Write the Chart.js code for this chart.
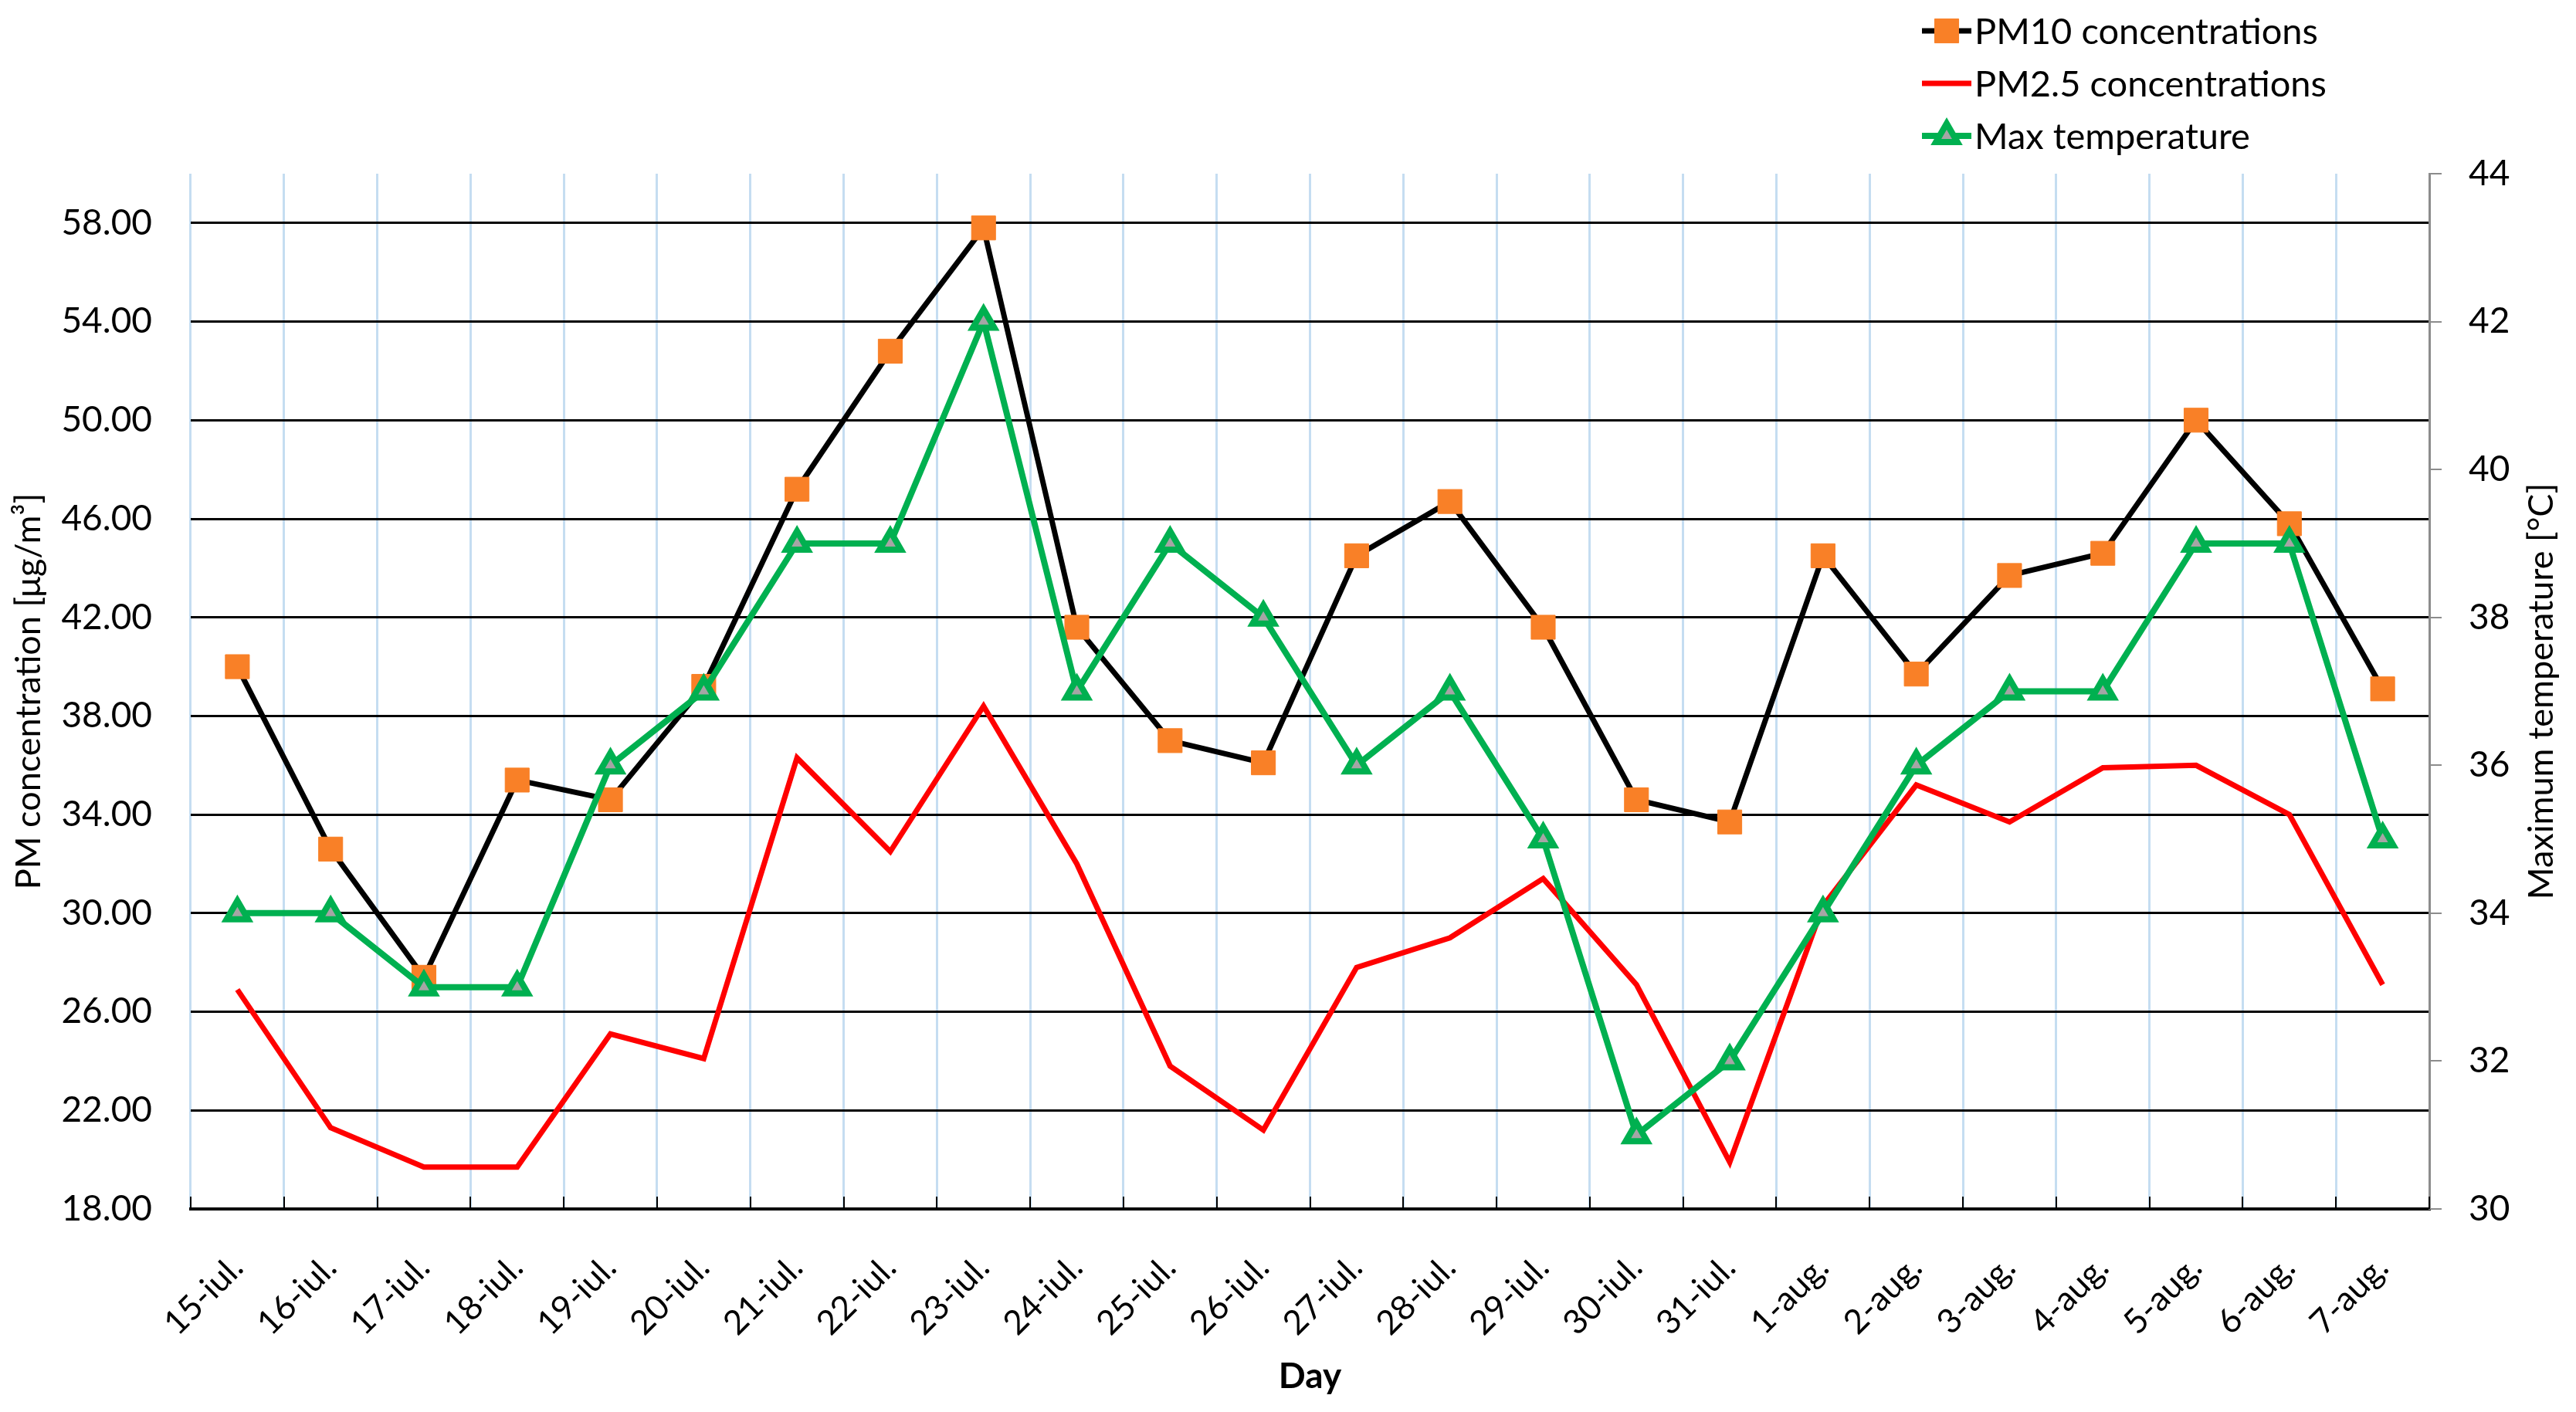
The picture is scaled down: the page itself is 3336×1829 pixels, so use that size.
<!DOCTYPE html>
<html>
<head>
<meta charset="utf-8">
<script src="https://cdn.jsdelivr.net/npm/chart.js@4.4.1/dist/chart.umd.min.js"></script>
<style>
html,body{margin:0;padding:0;background:#ffffff;}
#wrap{width:3336px;height:1829px;position:relative;}
canvas{display:block;}
</style>
</head>
<body>
<div id="wrap"><canvas id="c" width="3336" height="1829"></canvas></div>
<script>
// ---- data ----
const days = ["15-iul.","16-iul.","17-iul.","18-iul.","19-iul.","20-iul.","21-iul.","22-iul.","23-iul.","24-iul.","25-iul.","26-iul.","27-iul.","28-iul.","29-iul.","30-iul.","31-iul.","1-aug.","2-aug.","3-aug.","4-aug.","5-aug.","6-aug.","7-aug."];
const pm10 = [40.0, 32.6, 27.4, 35.4, 34.6, 39.2, 47.2, 52.8, 57.8, 41.6, 37.0, 36.1, 44.5, 46.7, 41.6, 34.6, 33.7, 44.5, 39.7, 43.7, 44.6, 50.0, 45.8, 39.1];
const pm25 = [26.9, 21.3, 19.7, 19.7, 25.1, 24.1, 36.3, 32.5, 38.4, 32.0, 23.8, 21.2, 27.8, 29.0, 31.4, 27.1, 19.9, 30.3, 35.2, 33.7, 35.9, 36.0, 34.0, 27.1];
const maxTemp = [34, 34, 33, 33, 36, 37, 39, 39, 42, 37, 39, 38, 36, 37, 35, 31, 32, 34, 36, 37, 37, 39, 39, 35];
const pmTicks = [18, 22, 26, 30, 34, 38, 42, 46, 50, 54, 58];
const tempTicks = [30, 32, 34, 36, 38, 40, 42, 44];
const seriesNames = ["PM10 concentrations", "PM2.5 concentrations", "Max temperature"];
const leftTitle = "PM concentration [\u03bcg/m\u00b3]";
const rightTitle = "Maximum temperature [\u00b0C]";
const xTitle = "Day";

const FONT = "Lato, 'Liberation Sans', sans-serif";

// inside tick marks on the category axis
const insideTicks = {
  id: 'insideTicks',
  afterDatasetsDraw(chart) {
    const xs = chart.scales.x;
    const ctx = chart.ctx;
    const n = chart.data.labels.length;
    const half = (xs.getPixelForValue(1) - xs.getPixelForValue(0)) / 2;
    const b = chart.chartArea.bottom;
    ctx.save();
    ctx.strokeStyle = '#000';
    ctx.lineWidth = 2;
    for (let i = 0; i <= n; i++) {
      const x = Math.round(xs.getPixelForValue(i) - half);
      ctx.beginPath();
      ctx.moveTo(x, b);
      ctx.lineTo(x, b - 16);
      ctx.stroke();
    }
    ctx.restore();
  }
};

// right axis title (reads bottom-to-top) and custom vertical legend
const extras = {
  id: 'extras',
  afterDraw(chart) {
    const ctx = chart.ctx;
    const ca = chart.chartArea;
    ctx.save();
    ctx.font = "45px " + FONT;
    ctx.fillStyle = '#000';
    ctx.textAlign = 'center';
    ctx.textBaseline = 'middle';
    ctx.translate(3291, (ca.top + ca.bottom) / 2);
    ctx.rotate(-Math.PI / 2);
    ctx.fillText(rightTitle, 0, 0);
    ctx.restore();

    ctx.save();
    const x0 = 2489, lineLen = 64, rowY0 = 40, rowGap = 68;
    chart.data.datasets.forEach((ds, i) => {
      const y = rowY0 + i * rowGap;
      ctx.strokeStyle = ds.borderColor;
      ctx.lineWidth = ds.borderWidth;
      ctx.beginPath();
      ctx.moveTo(x0, y);
      ctx.lineTo(x0 + lineLen, y);
      ctx.stroke();
      if (ds.pointRadius > 0) {
        ctx.fillStyle = ds.pointBackgroundColor;
        ctx.strokeStyle = ds.pointBorderColor;
        ctx.lineWidth = ds.pointBorderWidth;
        Chart.helpers.drawPoint(ctx, {pointStyle: ds.pointStyle, radius: ds.pointRadius, borderWidth: ds.pointBorderWidth, rotation: 0}, x0 + lineLen / 2, y);
      }
      ctx.fillStyle = '#000';
      ctx.font = "47px " + FONT;
      ctx.textAlign = 'left';
      ctx.textBaseline = 'middle';
      ctx.fillText(ds.label, x0 + lineLen + 4, y + 2);
    });
    ctx.restore();
  }
};

new Chart(document.getElementById('c'), {
  type: 'line',
  data: {
    labels: days,
    datasets: [
      {
        label: seriesNames[0], data: pm10, yAxisID: 'y', order: 3,
        borderColor: '#000000', borderWidth: 7, tension: 0,
        pointStyle: 'rect', pointRadius: 22, pointHoverRadius: 22,
        pointBackgroundColor: '#F98027', pointBorderColor: '#F98027', pointBorderWidth: 1
      },
      {
        label: seriesNames[1], data: pm25, yAxisID: 'y', order: 2,
        borderColor: '#FF0000', borderWidth: 7, tension: 0,
        pointRadius: 0, pointHoverRadius: 0, pointStyle: 'circle',
        pointBackgroundColor: '#FF0000', pointBorderColor: '#FF0000', pointBorderWidth: 0
      },
      {
        label: seriesNames[2], data: maxTemp, yAxisID: 'y1', order: 1,
        borderColor: '#00B050', borderWidth: 8, tension: 0,
        pointStyle: 'triangle', pointRadius: 16, pointHoverRadius: 16,
        pointBackgroundColor: '#A5A5A5', pointBorderColor: '#00B050', pointBorderWidth: 8
      }
    ]
  },
  options: {
    responsive: false,
    animation: false,
    devicePixelRatio: 1,
    layout: { padding: { top: 225, left: 0, right: 0, bottom: 0 } },
    plugins: {
      legend: { display: false },
      tooltip: { enabled: false }
    },
    scales: {
      x: {
        type: 'category',
        offset: true,
        grid: { offset: true, color: '#C5DDF1', lineWidth: 3, drawTicks: false },
        border: { color: '#000000', width: 4 },
        ticks: {
          autoSkip: false, maxRotation: 45, minRotation: 45,
          color: '#000', padding: 50,
          font: { family: FONT, size: 44 }
        },
        title: {
          display: true, text: xTitle, color: '#000',
          font: { family: FONT, size: 46, weight: 'bold' },
          padding: { top: 0, bottom: 18 }
        },
        afterFit(s) { s.height = 1829 - 1566; }
      },
      y: {
        position: 'left',
        min: 18, max: 60,
        afterBuildTicks(a) { a.ticks = pmTicks.map(v => ({ value: v })); },
        grid: { color: '#000000', lineWidth: 3, drawTicks: false },
        border: { display: false },
        ticks: {
          color: '#000', padding: 50,
          font: { family: FONT, size: 46 },
          callback: v => Number(v).toFixed(2)
        },
        title: {
          display: true, text: leftTitle, color: '#000',
          font: { family: FONT, size: 45 },
          padding: { top: 10, bottom: 0 }
        },
        afterFit(s) { s.width = 247; }
      },
      y1: {
        position: 'right',
        min: 30, max: 44,
        afterBuildTicks(a) { a.ticks = tempTicks.map(v => ({ value: v })); },
        grid: { drawOnChartArea: false, color: '#8C8C8C', lineWidth: 2, tickLength: 16 },
        border: { color: '#8C8C8C', width: 3 },
        ticks: {
          color: '#000', padding: 35,
          font: { family: FONT, size: 46 }
        },
        afterFit(s) { s.width = 3336 - 3146; }
      }
    }
  },
  plugins: [insideTicks, extras]
});
</script>
</body>
</html>
